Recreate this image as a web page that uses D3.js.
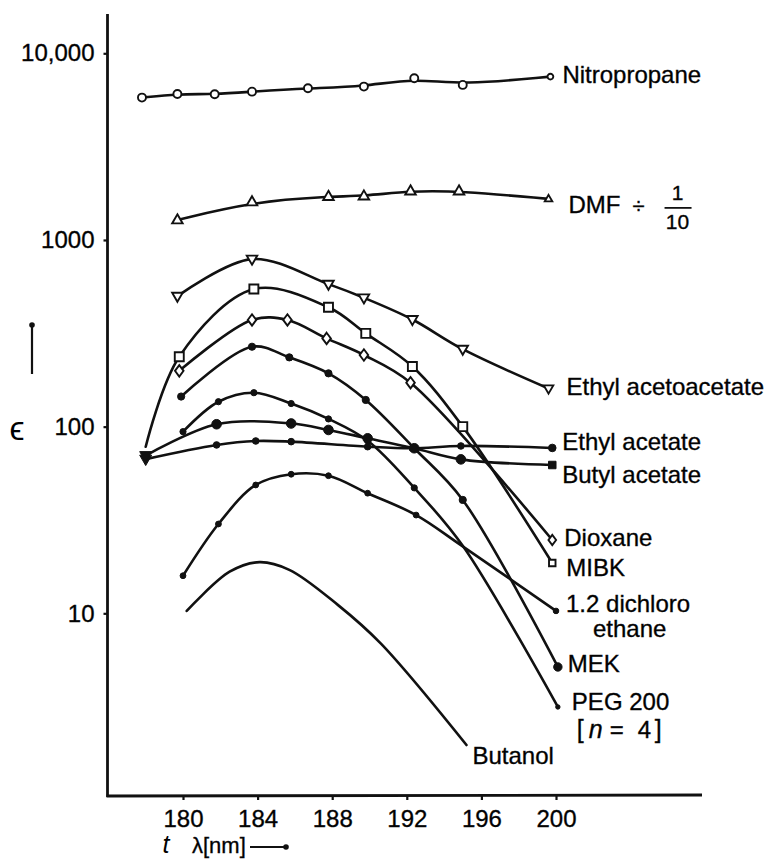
<!DOCTYPE html>
<html><head><meta charset="utf-8">
<script src="https://cdn.jsdelivr.net/npm/d3@7"></script>
<style>
html,body{margin:0;padding:0;background:#fff;}
svg{display:block;}
text{font-family:"Liberation Sans", Arial, Helvetica, sans-serif;fill:#000;}
</style></head><body>
<svg id="chart" width="771" height="860"></svg>
<script>
// ---------------- data (wavelength nm, epsilon) ----------------
const xTicks = [180, 184, 188, 192, 196, 200];
const yTicks = [10, 100, 1000, 10000];
const yTickLabels = ["10", "100", "1000", "10,000"];

const nitroX = [177.8, 179.7, 181.7, 183.7, 186.7, 189.7, 192.4, 195.0, 199.7];
const nitroV = [5790, 6050, 6030, 6230, 6500, 6630, 7350, 6770, 7500];

const dmfX = [179.7, 183.7, 187.8, 189.7, 192.2, 194.8, 199.6];
const dmfV = [1280, 1600, 1710, 1720, 1830, 1830, 1660];

const eaaX = [179.7, 183.7, 187.8, 189.7, 192.3, 195.0, 199.6];
const eaaV = [500, 790, 580, 490, 375, 260, 160];

const mibkX = [178.0, 179.8, 183.8, 187.8, 189.8, 192.3, 195.0, 199.8];
const mibkV = [78, 237, 546, 436, 316, 210, 100, 18.6];

const dioxX = [179.8, 183.7, 185.6, 187.7, 189.7, 192.2, 199.8];
const dioxV = [199, 373, 373, 297, 242, 172, 24.7];

const mekX = [179.9, 183.7, 185.7, 187.8, 189.8, 192.4, 195.0, 200.1];
const mekV = [145, 268, 235, 193, 139, 76.6, 40.5, 5.16];

const pegX = [180.0, 181.9, 183.8, 185.8, 187.8, 189.9, 192.4, 195.0, 200.1];
const pegV = [94, 136, 152, 133, 110, 84, 47, 23, 3.15];

const eaX = [178.0, 181.8, 183.9, 185.8, 189.9, 192.3, 194.9, 199.8];
const eaV = [67, 79.8, 83.8, 83.1, 78.1, 76.6, 78.8, 76.9];

const baX = [178.0, 181.8, 185.8, 187.8, 189.9, 192.4, 194.9, 199.8];
const baV = [70, 103, 104, 96, 86.6, 76.6, 66.8, 62.3];

const dceX = [180.0, 181.9, 183.9, 185.8, 187.8, 189.9, 192.5, 194.9, 200.0];
const dceV = [15.9, 30.1, 48.7, 55.6, 54.6, 44, 33.6, 23.2, 10.3];

const butX = [180.2, 182.5, 184.1, 185.7, 188.3, 190.6, 195.2];
const butV = [10.3, 16.7, 18.8, 17.1, 11.1, 6.9, 1.97];

const labelTexts = {
  nitro: ["Nitropropane"], dmf: ["DMF"], eaa: ["Ethyl acetoacetate"],
  ea: ["Ethyl acetate"], ba: ["Butyl acetate"], diox: ["Dioxane"], mibk: ["MIBK"],
  dce: ["1.2 dichloro", "ethane"], mek: ["MEK"], peg: ["PEG 200"], but: ["Butanol"]
};

// ---------------- layout / style ----------------
const svg = d3.select("#chart");
svg.append("rect").attr("width", 771).attr("height", 860).attr("fill", "#fff");

const x = d3.scaleLinear().domain([176, 208]).range([108.4, 705.2]);
const y = d3.scaleLog().domain([1, 10000]).range([800, 53.3]);
const AX = 107.5, AY = 796;
const INK = "#111";
const TXT_STROKE = 0.35;

// axes lines
svg.append("line").attr("x1", AX).attr("y1", 14).attr("x2", AX).attr("y2", AY + 1)
  .attr("stroke", INK).attr("stroke-width", 2.8);
svg.append("line").attr("x1", AX - 1).attr("y1", AY).attr("x2", 702).attr("y2", AY - 1)
  .attr("stroke", INK).attr("stroke-width", 2.8);

const yAxis = svg.append("g").attr("transform", `translate(${AX},0)`)
  .call(d3.axisLeft(y).tickValues(yTicks).tickSize(4).tickPadding(9)
    .tickFormat(d => yTickLabels[yTicks.indexOf(d)]));
const xAxis = svg.append("g").attr("transform", `translate(0,${AY})`)
  .call(d3.axisBottom(x).tickValues(xTicks).tickSize(4).tickPadding(10).tickFormat(d3.format("d")));
[yAxis, xAxis].forEach(g => {
  g.select(".domain").remove();
  g.selectAll(".tick line").attr("stroke", INK).attr("stroke-width", 2.2);
  g.selectAll(".tick text").attr("font-size", 24).attr("fill", INK)
    .attr("stroke", INK).attr("stroke-width", TXT_STROKE)
    .attr("font-family", '"Liberation Sans", Arial, sans-serif');
});

// marker shapes
function markerPath(shape, s) {
  switch (shape) {
    case "triUp": { const h = s * 0.866; return `M0,${-h * 0.62}L${s / 2},${h * 0.38}L${-s / 2},${h * 0.38}Z`; }
    case "triDown": { const h = s * 0.866; return `M0,${h * 0.62}L${s / 2},${-h * 0.38}L${-s / 2},${-h * 0.38}Z`; }
    case "square": return `M${-s / 2},${-s / 2}h${s}v${s}h${-s}Z`;
    case "diamond": return `M0,${-s * 0.6}L${s * 0.45},0L0,${s * 0.6}L${-s * 0.45},0Z`;
    default: return d3.arc()({innerRadius: 0, outerRadius: s, startAngle: 0, endAngle: 2 * Math.PI});
  }
}

const cr = d3.curveCatmullRom.alpha(0.5);
const series = [
  {key: "nitro", xs: nitroX, vs: nitroV, curve: d3.curveBasis, shape: "circle", size: 4, fill: false, end: ["circle", 2.9], lab: [12, 6]},
  {key: "dmf", xs: dmfX, vs: dmfV, curve: d3.curveBasis, shape: "triUp", size: 10.5, fill: false, end: ["triUp", 7.5], lab: [20, 14]},
  {key: "eaa", xs: eaaX, vs: eaaV, curve: cr, shape: "triDown", size: 10.5, fill: false, end: ["triDown", 9.5], lab: [18, 6]},
  {key: "mibk", xs: mibkX, vs: mibkV, curve: cr, shape: "square", size: 9, fill: false, end: ["square", 6.5], lab: [14, 13], bare: [0]},
  {key: "diox", xs: dioxX, vs: dioxV, curve: cr, shape: "diamond", size: 9.5, fill: false, end: ["diamond", 8.5], lab: [12, 6]},
  {key: "mek", xs: mekX, vs: mekV, curve: cr, shape: "circle", size: 3.6, fill: true, end: ["circle", 4.2], lab: [10, 5]},
  {key: "peg", xs: pegX, vs: pegV, curve: cr, shape: "circle", size: 3.1, fill: true, end: ["circle", 2.2], lab: [14, 3], bare: [7]},
  {key: "ea", xs: eaX, vs: eaV, curve: cr, shape: "circle", size: 3.3, fill: true, end: ["circle", 3.8], lab: [10, 2], first: ["triDown", 12]},
  {key: "ba", xs: baX, vs: baV, curve: cr, shape: "circle", size: 4.8, fill: true, end: ["square", 7.5], lab: [10, 18], first: ["triDown", 12]},
  {key: "dce", xs: dceX, vs: dceV, curve: cr, shape: "circle", size: 2.9, fill: true, end: ["circle", 2.8], lab: [10, 1], bare: [7]},
  {key: "but", xs: butX, vs: butV, curve: cr, shape: null, fill: true, lab: [6, 19]}
];

const gLines = svg.append("g");
const gMarks = svg.append("g");
const gLabels = svg.append("g").attr("stroke", INK).attr("stroke-width", TXT_STROKE);

series.forEach(s => {
  const pts = s.xs.map((d, i) => [d, s.vs[i]]);
  gLines.append("path")
    .attr("d", d3.line().x(d => x(d[0])).y(d => y(d[1])).curve(s.curve)(pts))
    .attr("fill", "none").attr("stroke", INK).attr("stroke-width", 2.6)
    .attr("stroke-linejoin", "round").attr("stroke-linecap", "round");
  if (s.shape) {
    pts.forEach((p, i) => {
      if (s.bare && s.bare.includes(i)) return;
      let shape = s.shape, size = s.size, fill = s.fill;
      if (i === pts.length - 1 && s.end) { shape = s.end[0]; size = s.end[1]; }
      if (i === 0 && s.first) { shape = s.first[0]; size = s.first[1]; fill = true; }
      gMarks.append("path").attr("d", markerPath(shape, size))
        .attr("transform", `translate(${x(p[0])},${y(p[1])})`)
        .attr("fill", fill ? INK : "#fff").attr("stroke", INK)
        .attr("stroke-width", fill ? 1 : 1.9);
    });
  }
  // label
  const last = pts[pts.length - 1];
  const lx = x(last[0]) + s.lab[0], ly = y(last[1]) + s.lab[1];
  const lines = labelTexts[s.key];
  const t = gLabels.append("text").attr("x", lx).attr("y", ly).attr("font-size", 24);
  t.append("tspan").text(lines[0]);
  if (s.key === "dce") {
    t.append("tspan").attr("x", lx + 27).attr("dy", 25).text(lines[1]);
  }
  if (s.key === "dmf") {
    gLabels.append("text").attr("x", lx + 70).attr("y", ly).attr("font-size", 22)
      .attr("text-anchor", "middle").text("÷");
    gLabels.append("text").attr("x", lx + 109).attr("y", ly - 13).attr("font-size", 21)
      .attr("text-anchor", "middle").text("1");
    gLabels.append("line").attr("x1", lx + 96).attr("x2", lx + 123)
      .attr("y1", ly - 5).attr("y2", ly - 5).attr("stroke", INK).attr("stroke-width", 1.8);
    gLabels.append("text").attr("x", lx + 109).attr("y", ly + 16).attr("font-size", 21)
      .attr("text-anchor", "middle").text("10");
  }
  if (s.key === "peg") {
    const by = ly + 28;
    const serif = '"Liberation Serif", serif';
    gLabels.append("text").attr("x", lx + 5).attr("y", by).attr("font-size", 25)
      .attr("font-family", serif).text("[");
    gLabels.append("text").attr("x", lx + 17).attr("y", by).attr("font-size", 25)
      .attr("font-family", serif).attr("font-style", "italic").text("n");
    gLabels.append("text").attr("x", lx + 38).attr("y", by).attr("font-size", 24).text("=");
    gLabels.append("text").attr("x", lx + 66).attr("y", by).attr("font-size", 24).text("4");
    gLabels.append("text").attr("x", lx + 83).attr("y", by).attr("font-size", 25)
      .attr("font-family", serif).text("]");
  }
});

// axis titles
svg.append("text").attr("x", 17).attr("y", 440).attr("text-anchor", "middle")
  .attr("font-size", 34).attr("font-family", '"DejaVu Sans", sans-serif').text("ϵ");
svg.append("line").attr("x1", 32).attr("x2", 32).attr("y1", 374).attr("y2", 326)
  .attr("stroke", INK).attr("stroke-width", 2.2);
svg.append("circle").attr("cx", 32).attr("cy", 325).attr("r", 2.8).attr("fill", INK);

svg.append("text").attr("x", 166).attr("y", 853).attr("font-size", 25)
  .attr("font-family", '"Liberation Serif", serif').attr("font-style", "italic")
  .attr("text-anchor", "middle").text("t");
svg.append("text").attr("x", 192).attr("y", 853).attr("font-size", 22)
  .attr("stroke", INK).attr("stroke-width", TXT_STROKE).text("λ[nm]");
svg.append("line").attr("x1", 250).attr("x2", 285).attr("y1", 847).attr("y2", 847)
  .attr("stroke", INK).attr("stroke-width", 2.2);
svg.append("circle").attr("cx", 286).attr("cy", 847).attr("r", 2.8).attr("fill", INK);
</script></body></html>
